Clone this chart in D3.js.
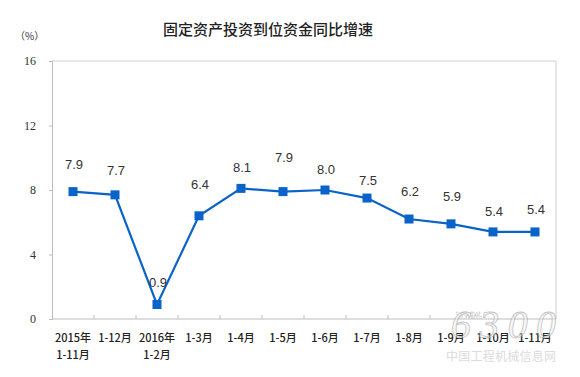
<!DOCTYPE html>
<html lang="zh">
    <head>
        <meta charset="utf-8">
        <title>固定资产投资到位资金同比增速</title>
        <script type="text/javascript" src="https://d3js.org/d3.v7.min.js"></script>
        <style type="text/css">
            body { margin: 0; background: #fff; }
        </style>
    </head>
    <body>
        <script type="text/javascript">

            // Datos
            var categories = ["2015年|1-11月", "1-12月", "2016年|1-2月", "1-3月", "1-4月", "1-5月",
                              "1-6月", "1-7月", "1-8月", "1-9月", "1-10月", "1-11月"];
            var values = [7.9, 7.7, 0.9, 6.4, 8.1, 7.9, 8.0, 7.5, 6.2, 5.9, 5.4, 5.4];
            var yTicks = [0, 4, 8, 12, 16];

            // Desplazamiento vertical de cada etiqueta (px sobre el punto)
            var labelLift = [27, 24, 22, 31, 21, 34, 21, 18, 28, 27, 20, 22];

            var w = 580;
            var h = 377;
            var margin = {left: 52, right: 24, top: 61, bottom: 58};

            var svg = d3.select("body")
                        .append("svg")
                        .attr("width", w)
                        .attr("height", h);

            var xScale = d3.scaleBand()
                           .domain(d3.range(categories.length))
                           .range([margin.left, w - margin.right]);

            var yScale = d3.scaleLinear()
                           .domain([0, 16])
                           .range([h - margin.bottom, margin.top]);

            // Marco
            svg.append("path")
               .attr("d", "M" + margin.left + "," + margin.top + "H" + (w - margin.right) + "V" + (h - margin.bottom))
               .attr("fill", "none")
               .attr("stroke", "#d0d0d0");

            // Eje Y
            var yAxis = d3.axisLeft(yScale).tickValues(yTicks).tickSize(3).tickPadding(13);
            var gy = svg.append("g")
                        .attr("transform", "translate(" + margin.left + ",0)")
                        .call(yAxis);
            gy.select(".domain").attr("stroke", "#bdbdbd");
            gy.selectAll(".tick line").attr("stroke", "#bdbdbd");
            gy.selectAll(".tick text")
              .attr("font-family", "Liberation Serif, serif")
              .attr("font-size", 12)
              .attr("fill", "#333");

            // Eje X: marcas entre categorias
            var base = yScale(0);
            svg.append("line")
               .attr("x1", margin.left).attr("x2", w - margin.right)
               .attr("y1", base).attr("y2", base)
               .attr("stroke", "#bdbdbd");

            svg.selectAll(".xtick")
               .data(d3.range(1, categories.length))
               .enter()
               .append("line")
               .attr("class", "xtick")
               .attr("x1", function(d){ return xScale(d); })
               .attr("x2", function(d){ return xScale(d); })
               .attr("y1", base)
               .attr("y2", base - 4)
               .attr("stroke", "#bdbdbd");

            var xl = svg.selectAll(".xlabel")
                        .data(categories)
                        .enter()
                        .append("text")
                        .attr("class", "xlabel")
                        .attr("text-anchor", "middle")
                        .attr("font-family", "Noto Sans CJK SC, sans-serif")
                        .attr("font-size", 11)
                        .attr("font-weight", 500)
                        .attr("fill", "#222");
            xl.selectAll("tspan")
              .data(function(d, i){
                  return d.split("|").map(function(s){ return {s: s, i: i}; });
              })
              .enter()
              .append("tspan")
              .attr("x", function(d){ return xScale(d.i) + xScale.bandwidth() / 2; })
              .attr("y", function(d, j){ return 342 + j * 17; })
              .text(function(d){ return d.s; });

            // Linea
            var line = d3.line()
                         .x(function(d, i){ return xScale(i) + xScale.bandwidth() / 2; })
                         .y(function(d){ return yScale(d); });

            svg.append("path")
               .datum(values)
               .attr("d", line)
               .attr("fill", "none")
               .attr("stroke", "#0a63c9")
               .attr("stroke-width", 2.2);

            svg.selectAll(".marker")
               .data(values)
               .enter()
               .append("rect")
               .attr("class", "marker")
               .attr("x", function(d, i){ return xScale(i) + xScale.bandwidth() / 2 - 4.5; })
               .attr("y", function(d){ return yScale(d) - 4.5; })
               .attr("width", 9)
               .attr("height", 9)
               .attr("fill", "#0a63c9");

            // Etiquetas de valor
            svg.selectAll(".vlabel")
               .data(values)
               .enter()
               .append("text")
               .attr("class", "vlabel")
               .attr("x", function(d, i){ return xScale(i) + xScale.bandwidth() / 2 + 1; })
               .attr("y", function(d, i){ return yScale(d) - labelLift[i]; })
               .attr("dy", "0.35em")
               .attr("text-anchor", "middle")
               .attr("font-family", "Liberation Sans, Arial, sans-serif")
               .attr("font-size", 13)
               .attr("fill", "#333")
               .text(function(d){ return d3.format(".1f")(d); });

            // Titulo y unidad
            svg.append("text")
               .attr("x", 268)
               .attr("y", 35)
               .attr("text-anchor", "middle")
               .attr("font-family", "Noto Sans CJK SC, sans-serif")
               .attr("font-size", 15)
               .attr("font-weight", 500)
               .attr("fill", "#222")
               .text("固定资产投资到位资金同比增速");

            svg.append("text")
               .attr("x", 15)
               .attr("y", 40)
               .attr("font-family", "Noto Sans CJK SC, sans-serif")
               .attr("font-size", 10)
               .attr("fill", "#333")
               .text("（%）");

            // Marca de agua
            var wm = svg.append("g").attr("opacity", 0.6);
            wm.append("text")
              .attr("x", 456).attr("y", 318)
              .attr("font-family", "Liberation Serif, serif")
              .attr("font-style", "italic")
              .attr("font-weight", "bold")
              .attr("font-size", 12)
              .attr("fill", "#fff")
              .attr("stroke", "#aaa")
              .attr("stroke-width", 0.5)
              .text("www.");
            wm.append("text")
              .attr("x", 451).attr("y", 338)
              .attr("font-family", "Liberation Serif, serif")
              .attr("font-style", "italic")
              .attr("font-size", 40)
              .attr("fill", "#f2f2f2")
              .attr("stroke", "#999")
              .attr("stroke-width", 0.8)
              .attr("textLength", 105)
              .text("6300");
            wm.append("text")
              .attr("x", 446).attr("y", 361)
              .attr("font-family", "Noto Sans CJK SC, sans-serif")
              .attr("font-size", 12)
              .attr("fill", "#c4c4c4")
              .attr("textLength", 110)
              .text("中国工程机械信息网");
        </script>
    </body>
</html>
